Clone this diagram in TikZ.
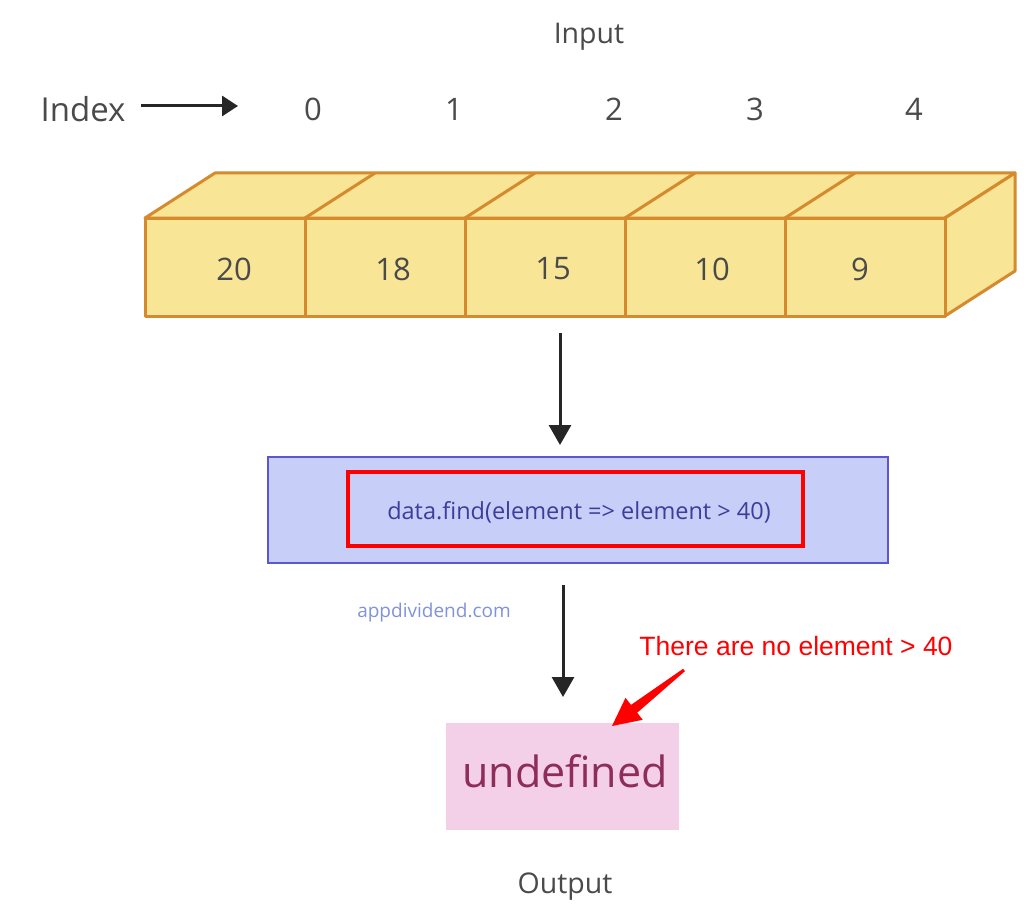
\documentclass[tikz,border=0pt]{standalone}
\usepackage{fontspec}
\setmainfont{Open Sans}
\newfontfamily\condf{Open Sans}
\newfontfamily\arialf{Liberation Sans}
\usetikzlibrary{arrows.meta}
\definecolor{cubefill}{HTML}{F9E596}
\definecolor{cubeline}{HTML}{D58A2E}
\definecolor{txtgray}{HTML}{4A4A4A}
\definecolor{boxblue}{HTML}{C7CFF8}
\definecolor{boxblueline}{HTML}{5A57D0}
\definecolor{codeblue}{HTML}{3C3E9C}
\definecolor{wmblue}{HTML}{8193D9}
\definecolor{pinkfill}{HTML}{F4D0E8}
\definecolor{undefcol}{HTML}{8E2C5C}
\definecolor{redc}{HTML}{FF0000}
\tikzset{
  lbl/.style={font=\condf\fontsize{28.5}{34}\selectfont, text=txtgray, inner sep=0pt},
  num/.style={font=\condf\fontsize{31}{36}\selectfont, text=txtgray, inner sep=0pt},
  cubeface/.style={fill=cubefill, draw=cubeline, line width=3pt, line join=round},
  blackarrow/.style={draw=black!85, line width=3pt, -{Triangle[length=20pt,width=22pt]}},
}
\begin{document}
\begin{tikzpicture}[x=1pt,y=-1pt]
\useasboundingbox[fill=white] (0,0) rectangle (1024,904);
% labels
\node[lbl] (input) at (589,37) {Input};
\node[font=\condf\fontsize{33}{38}\selectfont, text=txtgray, inner sep=0pt] (index) at (83,109) {Index};
\coordinate (ia) at (141,106);
\coordinate (ib) at (238,106);
\draw[draw=black!85, line width=3pt, -{Triangle[length=16pt,width=20pt]}] (ia) -- (ib);
\node[num] (i0) at (313,109) {0};
\node[num] (i1) at (454,109) {1};
\node[num] (i2) at (614,109) {2};
\node[num] (i3) at (755,109) {3};
\node[num] (i4) at (914,109) {4};
% cube row
\def\dx{70}\def\dy{-45}
\draw[cubeface] (145,218) -- (145+\dx,218+\dy) -- (945+\dx,218+\dy) -- (945,218) -- cycle;
\draw[cubeface] (945,218) -- (945+\dx,218+\dy) -- (945+\dx,316+\dy) -- (945,316) -- cycle;
\draw[cubeface] (145,218) rectangle (945,316);
\foreach \x in {305,465,625,785}{
  \draw[cubeline, line width=3pt] (\x,218) -- (\x,316);
  \draw[cubeline, line width=3pt] (\x,218) -- (\x+\dx,218+\dy);
}
\node[num] (c0) at (234,269) {20};
\node[num] (c1) at (393,269) {18};
\node[num] (c2) at (553,269) {15};
\node[num] (c3) at (712,269) {10};
\node[num] (c4) at (860,269) {9};
\coordinate (arr1s) at (560,333);
% function box
\node[draw=boxblueline, fill=boxblue, line width=2.5pt, minimum width=620pt, minimum height=106pt, inner sep=0pt] (fbox) at (578,510) {};
\node[draw=redc, line width=4pt, minimum width=455pt, minimum height=74pt, inner sep=0pt] (rbox) at (575.5,509) {};
\node[font=\condf\fontsize{23.5}{28}\selectfont, text=codeblue, inner sep=0pt] (code) at (579,512) {data.find(element => element > 40)};
\draw[blackarrow] (arr1s) -- (560,445);
\node[font=\condf\fontsize{19}{23}\selectfont, text=wmblue, inner sep=0pt] (wm) at (434,613) {appdividend.com};
\coordinate (arr2s) at (563,585);
% output
\node[fill=pinkfill, minimum width=233pt, minimum height=107pt, inner sep=0pt] (out) at (562,776) {};
\node[font=\condf\fontsize{43}{50}\selectfont, text=undefcol, inner sep=0pt] (undef) at (565,771) {undefined};
\draw[blackarrow] (arr2s) -- (563,697);
\node[lbl] (outl) at (565,887) {Output};
\node[font=\arialf\fontsize{26.5}{31}\selectfont, text=redc, inner sep=0pt] (note) at (796,646) {There are no element > 40};
% red tapered arrow
\fill[redc] (684.9,671.2) -- (637.2,712.7) -- (642.7,719.8) -- (612,726) -- (625.5,697.8) -- (631.0,704.9) -- (683.1,668.8) -- cycle;
\end{tikzpicture}
\end{document}
